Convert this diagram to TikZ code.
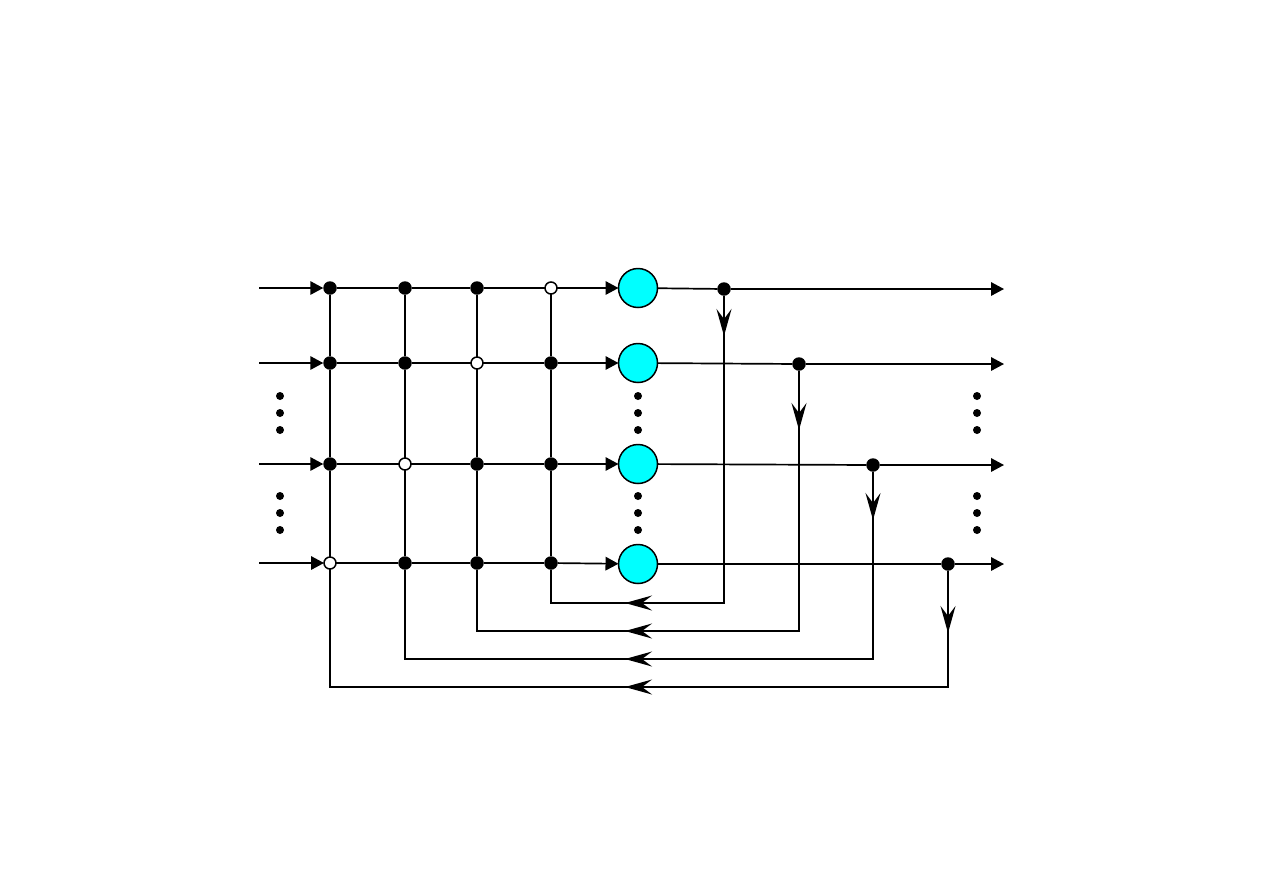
\documentclass[tikz,border=0pt]{standalone}
\usepackage{tikz}
\usetikzlibrary{arrows.meta}

\definecolor{unitcyan}{RGB}{0,255,255}

\tikzset{
  solid dot/.style={circle,fill=black,inner sep=0pt,outer sep=0pt,minimum size=.27cm},
  open dot/.style={circle,draw=black,fill=white,line width=.03cm,inner sep=0pt,outer sep=0pt,minimum size=.24cm},
  small dot/.style={circle,fill=black,inner sep=0pt,outer sep=0pt,minimum size=.16cm},
  unit/.style={circle,draw=black,fill=unitcyan,line width=.03cm,inner sep=0pt,outer sep=0pt,minimum size=.78cm},
  flow/.style={-{Triangle[length=.26cm,width=.27cm]}},
  back/.style={-{Stealth[length=.54cm,width=.3cm,inset=.2cm]}}
}

\begin{document}
\begin{tikzpicture}[x=.02cm,y=-.02cm,line width=.034cm]
  \useasboundingbox (0,0) rectangle (1263,893);

  \coordinate (r1in) at (259,288);
  \coordinate (r2in) at (259,363);
  \coordinate (r3in) at (259,464);
  \coordinate (r4in) at (259,563);

  \node[solid dot] (r1c1) at (330,288) {};
  \node[solid dot] (r1c2) at (405,288) {};
  \node[solid dot] (r1c3) at (477,288) {};
  \node[open dot]  (r1c4) at (551,288) {};
  \node[unit]      (r1u)  at (638,288) {};
  \node[solid dot] (r1t)  at (724,289) {};

  \node[solid dot] (r2c1) at (330,363) {};
  \node[solid dot] (r2c2) at (405,363) {};
  \node[open dot]  (r2c3) at (477,363) {};
  \node[solid dot] (r2c4) at (551,363) {};
  \node[unit]      (r2u)  at (638,363) {};
  \node[solid dot] (r2t)  at (799,364) {};

  \node[solid dot] (r3c1) at (330,464) {};
  \node[open dot]  (r3c2) at (405,464) {};
  \node[solid dot] (r3c3) at (477,464) {};
  \node[solid dot] (r3c4) at (551,464) {};
  \node[unit]      (r3u)  at (638,464) {};
  \node[solid dot] (r3t)  at (873,465) {};

  \node[open dot]  (r4c1) at (330,563) {};
  \node[solid dot] (r4c2) at (405,563) {};
  \node[solid dot] (r4c3) at (477,563) {};
  \node[solid dot] (r4c4) at (551,563) {};
  \node[unit]      (r4u)  at (638,564) {};
  \node[solid dot] (r4t)  at (948,564) {};

  \coordinate (r1end) at (1004,289);
  \coordinate (r2end) at (1004,364);
  \coordinate (r3end) at (1004,465);
  \coordinate (r4end) at (1004,564);

  % feedback turning points
  \coordinate (f1tip) at (724,336);
  \coordinate (f2tip) at (799,430);
  \coordinate (f3tip) at (873,520);
  \coordinate (f4tip) at (948,633);
  \coordinate (f1r) at (724,603);
  \coordinate (f2r) at (799,631);
  \coordinate (f3r) at (873,659);
  \coordinate (f4r) at (948,687);
  \coordinate (f1m) at (625,603);
  \coordinate (f2m) at (625,631);
  \coordinate (f3m) at (625,659);
  \coordinate (f4m) at (625,687);
  \coordinate (f1l) at (551,603);
  \coordinate (f2l) at (477,631);
  \coordinate (f3l) at (405,659);
  \coordinate (f4l) at (330,687);

  % ellipsis dots
  \foreach \x/\n in {280/a,638/b,977/c}
    \foreach \y/\m in {396/1,413/2,430/3,496/4,513/5,530/6}
      \node[small dot] (dot\n\m) at (\x,\y) {};

  \path[flow]
    (r1in) edge (r1c1)
    (r2in) edge (r2c1)
    (r3in) edge (r3c1)
    (r4in) edge (r4c1)
    (r1c4) edge (r1u)
    (r2c4) edge (r2u)
    (r3c4) edge (r3u)
    (r4c4) edge (r4u)
    (r1t) edge (r1end)
    (r2t) edge (r2end)
    (r3t) edge (r3end)
    (r4t) edge (r4end)
  ;

  \draw (r1c1) -- (r1c2) -- (r1c3) -- (r1c4);
  \draw (r2c1) -- (r2c2) -- (r2c3) -- (r2c4);
  \draw (r3c1) -- (r3c2) -- (r3c3) -- (r3c4);
  \draw (r4c1) -- (r4c2) -- (r4c3) -- (r4c4);

  \draw (r1u) -- (r1t);
  \draw (r2u) -- (r2t);
  \draw (r3u) -- (r3t);
  \draw (r4u) -- (r4t);

  \draw (r1c1) -- (r2c1) -- (r3c1) -- (r4c1);
  \draw (r1c2) -- (r2c2) -- (r3c2) -- (r4c2);
  \draw (r1c3) -- (r2c3) -- (r3c3) -- (r4c3);
  \draw (r1c4) -- (r2c4) -- (r3c4) -- (r4c4);

  % whole feedback runs, heads go on top
  \draw (r1t) -- (f1r) -- (f1l) -- (r4c4);
  \draw (r2t) -- (f2r) -- (f2l) -- (r4c3);
  \draw (r3t) -- (f3r) -- (f3l) -- (r4c2);
  \draw (r4t) -- (f4r) -- (f4l) -- (r4c1);

  \path[back]
    (r1t) edge (f1tip)
    (r2t) edge (f2tip)
    (r3t) edge (f3tip)
    (r4t) edge (f4tip)
    (f1r) edge (f1m)
    (f2r) edge (f2m)
    (f3r) edge (f3m)
    (f4r) edge (f4m)
  ;
\end{tikzpicture}
\end{document}
